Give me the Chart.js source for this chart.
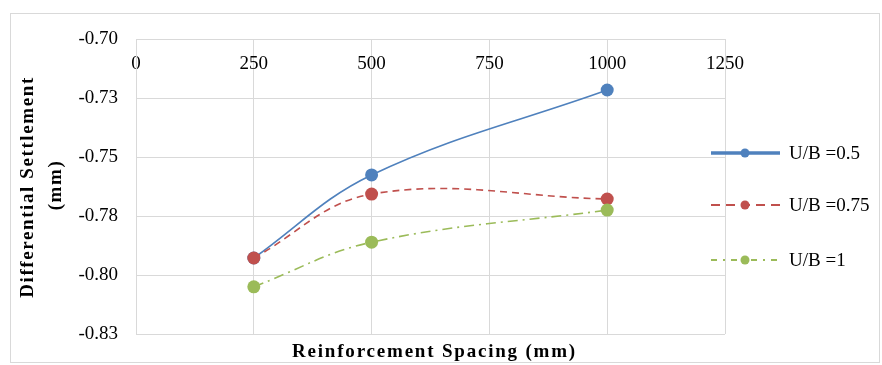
<!DOCTYPE html>
<html><head><meta charset="utf-8">
<script src="https://cdn.jsdelivr.net/npm/chart.js@4/dist/chart.umd.min.js"></script>
<style>html,body{margin:0;padding:0;background:#fff;}#wrap{width:882px;height:365px;}</style>
</head><body><div id="wrap"><canvas id="c" width="882" height="365"></canvas></div>
<script>
const spacing = [250, 500, 1000];
const ub05 = [-0.7928, -0.7576, -0.7216];
const ub075 = [-0.7928, -0.7657, -0.7678];
const ub1 = [-0.8050, -0.7861, -0.7725];
const seriesNames = ['U/B =0.5', 'U/B =0.75', 'U/B =1'];
const xTickValues = [0, 250, 500, 750, 1000, 1250];
const yTickValues = [-0.700, -0.725, -0.750, -0.775, -0.800, -0.825];
const yTickLabels = ['-0.70', '-0.73', '-0.75', '-0.78', '-0.80', '-0.83'];
const xTitle = 'Reinforcement Spacing (mm)';
const yTitle = ['Differential Settlement', '(mm)'];

const colors = ['#4f81bd', '#c0504d', '#9bbb59'];
const dashes = [[], [7, 5], [10, 5, 2, 5]];
const legendDashes = [[], [9, 6], [6, 6, 2, 6]];
const legendWidths = [3.5, 2, 2];
const FONT = '"Liberation Serif", "Times New Roman", serif';

function mkData(vals) { return spacing.map((x, i) => ({x: x, y: vals[i]})); }

const extras = {
  id: 'extras',
  beforeDraw(chart) {
    const ctx = chart.ctx;
    ctx.save();
    ctx.fillStyle = '#fff';
    ctx.fillRect(0, 0, chart.width, chart.height);
    ctx.strokeStyle = '#d9d9d9';
    ctx.lineWidth = 1;
    ctx.strokeRect(10.5, 13.5, 869, 349);
    ctx.restore();
  },
  afterDraw(chart) {
    const ctx = chart.ctx;
    const ca = chart.chartArea;
    ctx.save();
    // x title
    ctx.fillStyle = '#000';
    ctx.font = 'bold 19px ' + FONT;
    ctx.letterSpacing = '1.8px';
    ctx.textAlign = 'center';
    ctx.textBaseline = 'middle';
    ctx.fillText(xTitle, (ca.left + ca.right) / 2 + 4, 352);
    // y title
    ctx.letterSpacing = '1.6px';
    ctx.save();
    ctx.translate(28, 187);
    ctx.rotate(-Math.PI / 2);
    ctx.fillText(yTitle[0], 0, 0);
    ctx.fillText(yTitle[1], 2, 28);
    ctx.restore();
    // legend
    ctx.letterSpacing = '0px';
    const ys = [153, 205, 260];
    for (let i = 0; i < 3; i++) {
      const y = ys[i];
      ctx.strokeStyle = colors[i];
      ctx.lineWidth = legendWidths[i];
      ctx.setLineDash(legendDashes[i]);
      ctx.beginPath();
      ctx.moveTo(711, y);
      ctx.lineTo(780, y);
      ctx.stroke();
      ctx.setLineDash([]);
      ctx.fillStyle = colors[i];
      ctx.beginPath();
      ctx.arc(745, y, 4.5, 0, Math.PI * 2);
      ctx.fill();
      ctx.fillStyle = '#000';
      ctx.font = '19px ' + FONT;
      ctx.textAlign = 'left';
      ctx.textBaseline = 'middle';
      ctx.fillText(seriesNames[i], 789, y + 1);
    }
    ctx.restore();
  }
};

const datasets = [ub05, ub075, ub1].map((vals, i) => ({
  label: seriesNames[i],
  data: mkData(vals),
  borderColor: colors[i],
  backgroundColor: colors[i],
  borderWidth: 1.6,
  borderDash: dashes[i],
  pointRadius: 6.5,
  pointHoverRadius: 6.5,
  pointBorderWidth: 0,
  pointBackgroundColor: colors[i],
  tension: 0.38,
  fill: false,
  order: 2 - i
}));

new Chart(document.getElementById('c'), {
  type: 'line',
  data: {datasets},
  options: {
    responsive: false,
    animation: false,
    devicePixelRatio: 1,
    layout: {padding: {left: 0, top: 39, right: 157, bottom: 31}},
    plugins: {legend: {display: false}, tooltip: {enabled: false}, title: {display: false}},
    scales: {
      x: {
        type: 'linear',
        position: 'top',
        min: 0, max: 1250,
        afterBuildTicks(scale) { scale.ticks = xTickValues.map(v => ({value: v})); },
        ticks: {
          padding: 14,
          mirror: true,
          color: '#000',
          font: {family: FONT, size: 19},
          maxRotation: 0,
          autoSkip: false,
          callback: v => String(v)
        },
        grid: {color: '#d9d9d9', lineWidth: 1, drawTicks: false},
        border: {display: true, color: '#d9d9d9', width: 1},
        afterFit(scale) { scale.height = 0; }
      },
      y: {
        type: 'linear',
        min: -0.825, max: -0.70,
        afterBuildTicks(scale) { scale.ticks = yTickValues.map(v => ({value: v})); },
        ticks: {
          padding: 18,
          color: '#000',
          font: {family: FONT, size: 19},
          autoSkip: false,
          callback: v => yTickLabels[yTickValues.findIndex(t => Math.abs(t - v) < 1e-6)]
        },
        grid: {color: '#d9d9d9', lineWidth: 1, drawTicks: false},
        border: {display: true, color: '#d9d9d9', width: 1},
        afterFit(scale) { scale.width = 136; }
      }
    }
  },
  plugins: [extras]
});
</script></body></html>
